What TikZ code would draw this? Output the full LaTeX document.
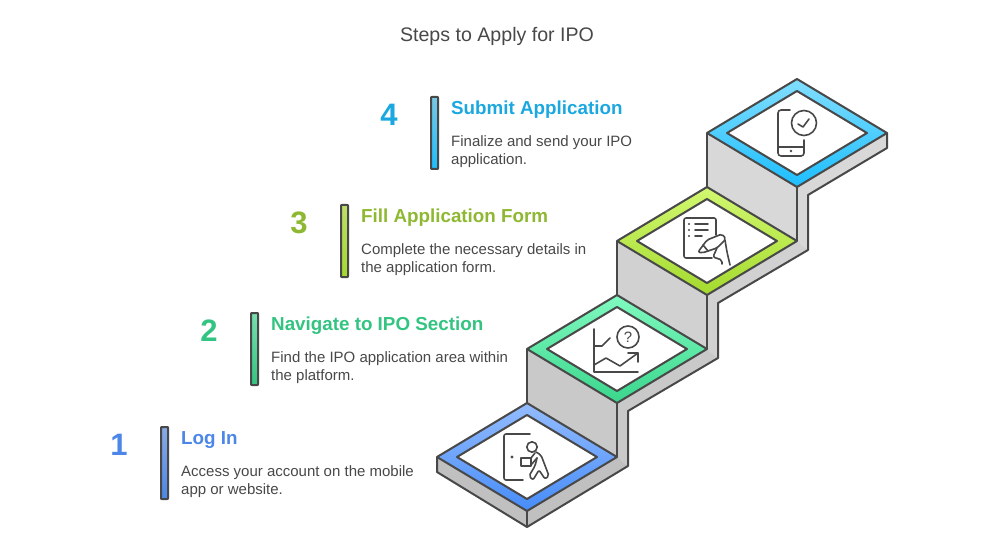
\documentclass[tikz,border=0pt]{standalone}
\usepackage{fontspec}
\setmainfont{Liberation Sans}
\definecolor{ink}{HTML}{484848}
\definecolor{blueT}{HTML}{4C86E8}
\definecolor{greenT}{HTML}{33C481}
\definecolor{limeT}{HTML}{8FB832}
\definecolor{skyT}{HTML}{1BA8E0}
\definecolor{wallA}{HTML}{C0C0C0}
\definecolor{wallB}{HTML}{C9C9C9}
\definecolor{wallC}{HTML}{D1D1D1}
\definecolor{wallD}{HTML}{D8D8D8}
\definecolor{blueUp}{HTML}{94BCFF}
\definecolor{blueDn}{HTML}{468CF8}
\definecolor{greenUp}{HTML}{80FAC0}
\definecolor{greenDn}{HTML}{3AD68C}
\definecolor{limeUp}{HTML}{D2F870}
\definecolor{limeDn}{HTML}{A4DA2E}
\definecolor{skyUp}{HTML}{82DEFF}
\definecolor{skyDn}{HTML}{1CBEFF}
\tikzset{
	outline/.style = {draw = ink, line width = 2pt, line join = round},
	hole/.style = {fill = white, outline},
	icon/.style = {draw = ink, line width = 1.6pt, line cap = round, line join = round},
	bar/.style = {outline, rounded corners = 0.6pt},
	stepno/.style = {anchor = base, font = \fontsize{31}{31}\selectfont\bfseries},
	headline/.style = {anchor = base west, inner sep = 0pt, font = \fontsize{18.8}{22}\selectfont\bfseries},
	bodytext/.style = {anchor = north west, align = left, inner sep = 0pt, text = ink, font = \fontsize{15}{18}\selectfont}
}
\begin{document}
\begin{tikzpicture}[x = 1pt, y = -1pt]
	\useasboundingbox (0,0) rectangle (994,559);
	\node[anchor = base, text = ink, font = \fontsize{19.6}{22}\selectfont] (title) at (497,41.5) {Steps to Apply for IPO};

	% walls of the stairs
	\fill[wallD] (707,133) -- (797,187) -- (887,133) -- (887,148) -- (808,195) -- (808,250) -- (797,241) -- (707,187) -- cycle;
	\fill[wallC] (617,241) -- (707,295) -- (797,241) -- (808,250) -- (718,303) -- (718,358) -- (707,349) -- (617,295) -- cycle;
	\fill[wallB] (527,349) -- (617,403) -- (707,349) -- (718,358) -- (628,411) -- (628,466) -- (617,457) -- (527,403) -- cycle;
	\fill[wallA] (437,457) -- (527,511) -- (617,457) -- (628,466) -- (527,527) -- (437,472) -- cycle;
	\draw[outline] (437,457) -- (437,472) -- (527,527) -- (628,466) -- (628,411) -- (718,358) -- (718,303) -- (808,250) -- (808,195) -- (887,148) -- (887,133);
	\draw[outline] (527,511) -- (527,527);
	\draw[outline] (527,349) -- (527,403);
	\draw[outline] (617,403) -- (617,457);
	\draw[outline] (617,241) -- (617,295);
	\draw[outline] (707,295) -- (707,349);
	\draw[outline] (707,133) -- (707,187);
	\draw[outline] (797,187) -- (797,241);

	% tops of the stairs
	\path[outline, top color = blueUp, bottom color = blueDn] (527,403) -- (617,457) -- (527,511) -- (437,457) -- cycle;
	\path[hole] (527,415) -- (597,457) -- (527,499) -- (457,457) -- cycle;
	\path[outline, top color = greenUp, bottom color = greenDn] (617,295) -- (707,349) -- (617,403) -- (527,349) -- cycle;
	\path[hole] (617,307) -- (687,349) -- (617,391) -- (547,349) -- cycle;
	\path[outline, top color = limeUp, bottom color = limeDn] (707,187) -- (797,241) -- (707,295) -- (617,241) -- cycle;
	\path[hole] (707,199) -- (777,241) -- (707,283) -- (637,241) -- cycle;
	\path[outline, top color = skyUp, bottom color = skyDn] (797,79) -- (887,133) -- (797,187) -- (707,133) -- cycle;
	\path[hole] (797,91) -- (867,133) -- (797,175) -- (727,133) -- cycle;

	% door
	\draw[icon, rounded corners = 2pt] (530,434) -- (504,434) -- (504,480) -- (523,480);
	\fill[ink] (512,457) circle (1.6);
	\draw[icon] (532,447) circle (5.2);
	\draw[icon] (521,458) rectangle (531,466);
	\draw[icon, rounded corners = 2pt] (536,452) -- (541,455) -- (549,476) -- (545,479) -- (539,470) -- (533,480) -- (529,476) -- (535,466) -- (537,458);
	\draw[icon] (531,465) -- (537,458);
	\draw[icon] (535,453) -- (531,458);
	% chart
	\draw[icon] (594,329) -- (594,372) -- (638,372);
	\draw[icon] (594,346) -- (602,346) -- (610,338);
	\draw[icon] (594,365) -- (606,358) -- (620,366) -- (638,353);
	\draw[icon] (628,353) -- (638,353) -- (638,362);
	\node[draw = ink, line width = 1.6pt, circle, minimum size = 22pt, inner sep = 0pt, text = ink, font = \fontsize{15}{15}\selectfont] (ask) at (628,337) {?};
	% form and pen
	\draw[icon, rounded corners = 2pt] (716,235) -- (716,218) -- (684,218) -- (684,258) -- (712,258);
	\fill[ink] (689,224) circle (1.2) (689,230) circle (1.2) (689,236) circle (1.2);
	\draw[icon] (695,224) -- (708,224);
	\draw[icon] (695,230) -- (708,230);
	\draw[icon] (695,236) -- (702,236);
	\draw[icon, rounded corners = 2pt] (698,252) -- (707,240) -- (722,234) -- (726,239) -- (717,248) -- (702,253) -- cycle;
	\draw[icon] (703,245) -- (708,251);
	\draw[icon, rounded corners = 2pt] (717,248) -- (713,257) -- (722,260) -- (722,264);
	\draw[icon, rounded corners = 2pt] (725,240) -- (727,252) -- (730,265);
	% phone and tick
	\draw[icon, rounded corners = 3pt] (790,110) -- (778,110) -- (778,156) -- (804,156) -- (804,140);
	\draw[icon] (778,147) -- (804,147);
	\fill[ink] (791,151) circle (1.4);
	\draw[icon] (804,123) circle (12.5);
	\draw[icon] (798,124) -- (803,127) -- (809,119);

	% texts on the left
	\draw[bar, top color = blueUp!85!ink, bottom color = blueT] (161,427) rectangle (168,499);
	\node[stepno, text = blueT] (no1) at (119,455.5) {1};
	\node[headline, text = blueT] (head1) at (181,444.5) {Log In};
	\node[bodytext] (text1) at (181,465.5) {Access your account on the mobile\\app or website.};

	\draw[bar, top color = greenUp!85!ink, bottom color = greenT] (251,313) rectangle (258,385);
	\node[stepno, text = greenT] (no2) at (209,341.5) {2};
	\node[headline, text = greenT] (head2) at (271,330.5) {Navigate to IPO Section};
	\node[bodytext] (text2) at (271,351.5) {Find the IPO application area within\\the platform.};

	\draw[bar, top color = limeUp!85!ink, bottom color = limeDn] (341,205) rectangle (348,277);
	\node[stepno, text = limeT] (no3) at (299,233.5) {3};
	\node[headline, text = limeT] (head3) at (361,222.5) {Fill Application Form};
	\node[bodytext] (text3) at (361,243.5) {Complete the necessary details in\\the application form.};

	\draw[bar, top color = skyUp!85!ink, bottom color = skyDn] (431,97) rectangle (438,169);
	\node[stepno, text = skyT] (no4) at (389,125.5) {4};
	\node[headline, text = skyT] (head4) at (451,114.5) {Submit Application};
	\node[bodytext] (text4) at (451,135.5) {Finalize and send your IPO\\application.};
\end{tikzpicture}
\end{document}
